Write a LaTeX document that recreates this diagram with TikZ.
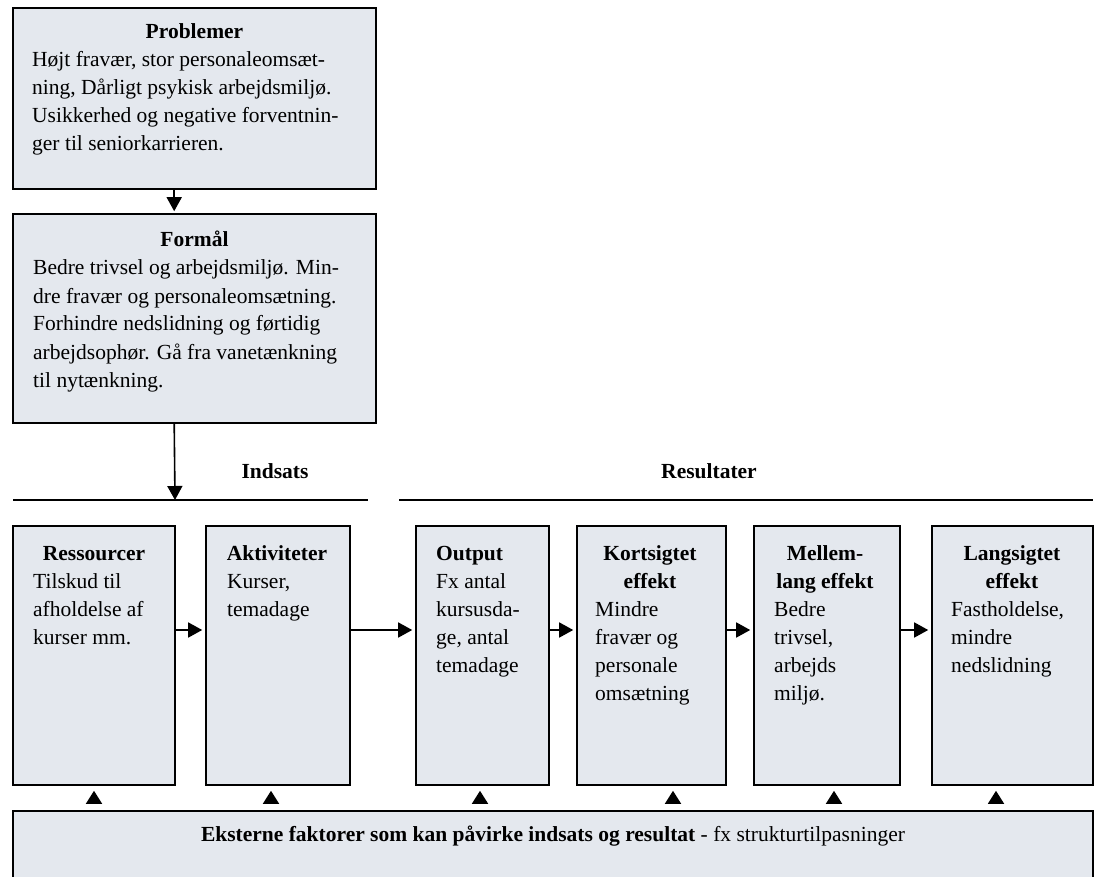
\documentclass[tikz,border=0pt]{standalone}
\usepackage{fontspec}
\setmainfont{Liberation Serif}
\usetikzlibrary{arrows.meta}
\definecolor{boksgraa}{RGB}{228,232,238}

\begin{document}
\begin{tikzpicture}[x=1pt,y=-1pt,
  boks/.style={draw,line width=1.6pt,fill=boksgraa,inner sep=0pt},
  titel/.style={anchor=base,align=center,inner sep=0pt,font=\fontsize{21.5}{28}\selectfont\bfseries},
  tekst/.style={anchor=base west,align=left,inner sep=0pt,font=\fontsize{21.5}{28}\selectfont},
  pil/.style={line width=1.6pt,-{Triangle[length=14pt,width=15pt]}},
  opad/.style={pil,-{Triangle[length=13pt,width=16pt]},shorten <=8pt,shorten >=5pt}]

\useasboundingbox (0,0) rectangle (1098,877);

% problem og formaal (tekstnoder sidder paa sidste linjes grundlinje)
\node[boks,minimum width=363pt,minimum height=181pt] (prob) at (194.5,98.5) {};
\node[titel] (probh) at (194.5,39) {Problemer};
\node[tekst] (probt) at (32,151) {Højt fravær, stor personaleomsæt-\\ning, Dårligt psykisk arbejdsmiljø.\\Usikkerhed og negative forventnin-\\ger til seniorkarrieren.};

\node[boks,minimum width=363pt,minimum height=209pt] (form) at (194.5,318.5) {};
\node[titel] (formh) at (194.5,247) {Formål};
\node[tekst] (formt) at (33,387) {Bedre trivsel og arbejdsmiljø. Min-\\dre fravær og personaleomsætning.\\Forhindre nedslidning og førtidig\\arbejdsophør. Gå fra vanetænkning\\til nytænkning.};

\draw[pil,shorten >=2pt] ([xshift=162pt]prob.south west) -- ([xshift=162pt]form.north west);

% indsats og resultater
\node[titel] (inds) at (275,478) {Indsats};
\node[titel] (resu) at (709,478) {Resultater};
\draw[line width=1.6pt] (13,500) -- (368,500);
\draw[line width=1.6pt] (399,500) -- (1093,500);
\coordinate (indslinje) at (175,500);
\draw[pil] ([xshift=162pt]form.south west) -- (indslinje);

% kaeden
\node[boks,minimum width=162pt,minimum height=259pt] (res) at (94,655.5) {};
\node[boks,minimum width=144pt,minimum height=259pt] (akt) at (278,655.5) {};
\node[boks,minimum width=133pt,minimum height=259pt] (out) at (482.5,655.5) {};
\node[boks,minimum width=149pt,minimum height=259pt] (kort) at (651.5,655.5) {};
\node[boks,minimum width=146pt,minimum height=259pt] (mel) at (827,655.5) {};
\node[boks,minimum width=161pt,minimum height=259pt] (lang) at (1012.5,655.5) {};

\node[titel] (resh) at (94,560) {Ressourcer};
\node[tekst] (rest) at (33,644) {Tilskud til\\afholdelse af\\kurser mm.};
\node[titel] (akth) at (277,560) {Aktiviteter};
\node[tekst] (aktt) at (227,616) {Kurser,\\temadage};
\node[titel,anchor=base west] (outh) at (436,560) {Output};
\node[tekst] (outt) at (436,672) {Fx antal\\kursusda-\\ge, antal\\temadage};
\node[titel] (korth) at (650,588) {Kortsigtet\\effekt};
\node[tekst] (kortt) at (595,700) {Mindre\\fravær og\\personale\\omsætning};
\node[titel] (melh) at (825,588) {Mellem-\\lang effekt};
\node[tekst] (melt) at (774,700) {Bedre\\trivsel,\\arbejds\\miljø.};
\node[titel] (langh) at (1012,588) {Langsigtet\\effekt};
\node[tekst] (langt) at (951,672) {Fastholdelse,\\mindre\\nedslidning};

\foreach \a/\b in {res/akt,akt/out,out/kort,kort/mel,mel/lang}
  \draw[pil,shorten >=3pt] ([yshift=25.5pt]\a.east) -- ([yshift=25.5pt]\b.west);

% eksterne faktorer
\node[boks,minimum width=1080pt,minimum height=89pt] (ext) at (553,855.5) {};
\node[titel] (extt) at (553,841) {Eksterne faktorer som kan påvirke indsats og resultat \mdseries - fx strukturtilpasninger};

\foreach \b/\dx in {res/0,akt/-7,out/-2.5,kort/21.5,mel/7,lang/-16.5}
  \draw[opad] ([xshift=\dx pt]\b.south |- ext.north) -- ([xshift=\dx pt]\b.south);
\end{tikzpicture}
\end{document}
